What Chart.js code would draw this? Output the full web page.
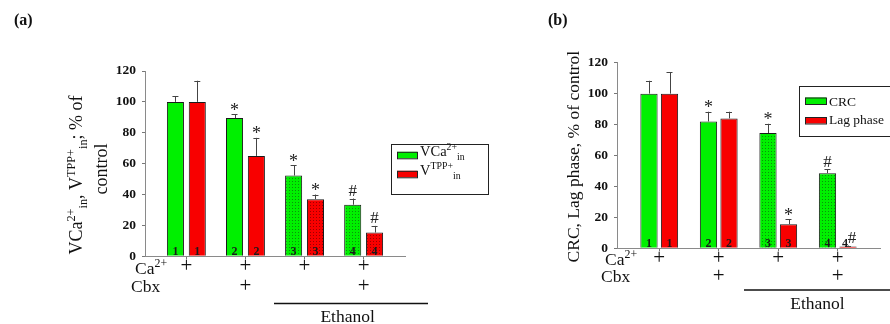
<!DOCTYPE html>
<html>
<head>
<meta charset="utf-8">
<script src="https://cdn.jsdelivr.net/npm/chart.js@4.4.1/dist/chart.umd.min.js"></script>
<style>
  html, body { margin: 0; padding: 0; background: #fff; width: 890px; height: 324px; overflow: hidden; }
  canvas { position: absolute; top: 0; }
  #cA { left: 0; }
  #cB { left: 500px; }
</style>
</head>
<body>
<canvas id="cA" width="500" height="324"></canvas>
<canvas id="cB" width="390" height="324"></canvas>
<script>
// ── shared categories / rows ────────────────────────
const groups = [1, 2, 3, 4];
const barNums = ['1', '2', '3', '4'];
const yTicks = [0, 20, 40, 60, 80, 100, 120];
const caRow  = ['+', '+', '+', '+'];
const cbxRow = ['', '+', '', '+'];
const ethanolGroups = [3, 4];

// ── panel (a): VCa2+in / VTPP+in, % of control ──────
const aVca     = [100, 89.5, 52.3, 33.4];
const aVcaErr  = [3.5, 2.5, 6.7, 4.0];
const aVcaSig  = ['', '*', '*', '#'];
const aVtpp    = [100, 65, 37, 15.4];
const aVtppErr = [13.7, 11.7, 3.0, 4.3];
const aVtppSig = ['', '*', '*', '#'];

// ── panel (b): CRC / Lag phase, % of control ────────
const bCrc    = [100, 82, 74.5, 48.6];
const bCrcErr = [8.3, 6.3, 6.0, 2.4];
const bCrcSig = ['', '*', '*', '#'];
const bLag    = [100, 84, 15.6, 1.2];
const bLagErr = [13.8, 4.3, 3.1, 0.6];
const bLagSig = ['', '', '*', '#'];

const SERIF = "'Liberation Serif', 'Times New Roman', serif";
const GREEN = '#00f000';
const RED = '#f80000';
const SUP = 0.68;

function dots(base, dot) {
  const c = document.createElement('canvas');
  c.width = c.height = 3;
  const x = c.getContext('2d');
  x.fillStyle = base; x.fillRect(0, 0, 3, 3);
  x.fillStyle = dot; x.fillRect(1, 1, 1, 1);
  return x.createPattern(c, 'repeat');
}

function richWidth(ctx, parts, size) {
  let w = 0;
  parts.forEach(([t, k]) => {
    ctx.font = (k ? size * SUP : size) + 'px ' + SERIF;
    w += ctx.measureText(t).width;
  });
  return w;
}

function rich(ctx, parts, x, y, size) {
  ctx.textAlign = 'left';
  ctx.textBaseline = 'alphabetic';
  parts.forEach(([t, k]) => {
    ctx.font = (k ? size * SUP : size) + 'px ' + SERIF;
    const dy = k === 'sup' ? -size * 0.4 : k === 'sub' ? size * 0.3 : 0;
    ctx.fillText(t, x, y + dy);
    x += ctx.measureText(t).width;
  });
}

// draws error bars, marks, numbers in bars, the +/- rows, legend, axis title
function annotations(p) {
  return {
    id: 'annot' + p.id,
    afterDraw(chart) {
      const ctx = chart.ctx, xs = chart.scales.x, ys = chart.scales.y;
      const X = v => v - p.left;
      ctx.save();
      ctx.fillStyle = '#111';

      // error bars + significance marks
      chart.data.datasets.forEach((ds, i) => {
        const meta = chart.getDatasetMeta(i);
        meta.data.forEach((bar, j) => {
          const top = ys.getPixelForValue(ds.data[j].y + ds.err[j]);
          ctx.strokeStyle = '#444';
          ctx.lineWidth = 1;
          ctx.beginPath();
          ctx.moveTo(Math.round(bar.x) + 0.5, bar.y);
          ctx.lineTo(Math.round(bar.x) + 0.5, top);
          ctx.moveTo(bar.x - 3, Math.round(top) + 0.5);
          ctx.lineTo(bar.x + 3, Math.round(top) + 0.5);
          ctx.stroke();
          const s = ds.sig[j];
          if (s) {
            ctx.textAlign = 'center';
            ctx.textBaseline = 'alphabetic';
            ctx.font = (s === '*' ? 18 : 17) + 'px ' + SERIF;
            ctx.fillStyle = '#222';
            const dx = (p.id === 'cB' && i === 1 && j === 3) ? 4 : 0;
            ctx.fillText(s, bar.x + dx, s === '*' ? top + 1.5 : top - 2.5);
          }
          // number inside bar
          ctx.font = 'bold 12px ' + SERIF;
          ctx.textAlign = 'center';
          ctx.fillStyle = '#1a1a1a';
          ctx.fillText(barNums[j], bar.x - (p.id === 'cB' && i === 1 && j === 3 ? 3 : 0), ys.bottom - 1.5);
        });
      });

      // treatment rows
      ctx.fillStyle = '#111';
      rich(ctx, [['Ca', ''], ['2+', 'sup']], X(p.rows.labelX), p.rows.caBase, 17.5);
      rich(ctx, [['Cbx', '']], X(p.rows.labelX - 4), p.rows.cbxBase, 17.5);
      ctx.font = '21px ' + SERIF;
      ctx.textAlign = 'center';
      groups.forEach((g, j) => {
        const px = xs.getPixelForValue(g);
        if (caRow[j]) ctx.fillText(caRow[j], px, p.rows.caPlus + 5.3);
        if (cbxRow[j]) ctx.fillText(cbxRow[j], px, p.rows.cbxPlus + 5.3);
      });
      ctx.strokeStyle = '#111';
      ctx.lineWidth = 1.4;
      ctx.beginPath();
      ctx.moveTo(X(p.rows.lineX1), p.rows.lineY);
      ctx.lineTo(X(p.rows.lineX2), p.rows.lineY);
      ctx.stroke();
      const ex = (xs.getPixelForValue(ethanolGroups[0]) + xs.getPixelForValue(ethanolGroups[1])) / 2;
      ctx.font = '17.5px ' + SERIF;
      ctx.fillText('Ethanol', ex + p.rows.ethDx, p.rows.ethBase);

      // legend
      const L = p.legend;
      ctx.strokeStyle = '#222';
      ctx.lineWidth = 1;
      ctx.strokeRect(X(L.box[0]) + 0.5, L.box[1] + 0.5, L.box[2], L.box[3]);
      L.items.forEach((it, i) => {
        ctx.fillStyle = chart.data.datasets[i].swatch;
        ctx.fillRect(X(L.swX), it.swY, L.swW, 6.5);
        ctx.strokeRect(X(L.swX) + 0.5, it.swY + 0.5, L.swW, 6.5);
        ctx.fillStyle = '#111';
        rich(ctx, it.parts, X(L.textX), it.base, L.size);
      });

      // y-axis title (rotated)
      p.title.forEach(t => {
        ctx.save();
        ctx.translate(X(t.x), t.cy);
        ctx.rotate(-Math.PI / 2);
        ctx.fillStyle = '#111';
        rich(ctx, t.parts, -richWidth(ctx, t.parts, t.size) / 2, 0, t.size);
        ctx.restore();
      });

      // panel label
      ctx.font = 'bold 16px ' + SERIF;
      ctx.textAlign = 'left';
      ctx.fillStyle = '#111';
      ctx.fillText(p.label, X(p.labelX), 25);
      ctx.restore();
    }
  };
}

function buildPanel(p) {
  const fill = (base, dot, pat) => groups.map((g, j) => pat[j] ? dots(base, dot) : base);
  const series = (vals, err, sig, color, dot, pat, name) => ({
    label: name,
    data: groups.map((g, j) => ({ x: g, y: vals[j] })),
    err, sig, swatch: color,
    backgroundColor: fill(color, dot, pat),
    borderColor: '#1a1a1a',
    borderWidth: 1,
    categoryPercentage: p.cat,
    barPercentage: p.bar
  });
  new Chart(document.getElementById(p.id), {
    type: 'bar',
    data: {
      datasets: [
        series(p.g, p.gErr, p.gSig, GREEN, '#0b8f0b', p.gPat, p.names[0]),
        series(p.r, p.rErr, p.rSig, RED, '#9a0000', p.rPat, p.names[1])
      ]
    },
    options: {
      responsive: false,
      animation: false,
      devicePixelRatio: 1,
      layout: { padding: p.pad },
      plugins: { legend: { display: false }, tooltip: { enabled: false } },
      scales: {
        x: {
          type: 'linear', min: p.xMin, max: p.xMax, offset: false,
          afterBuildTicks: s => { s.ticks = groups.map(v => ({ value: v })); },
          afterFit: s => { s.height = 0; },
          ticks: { display: false },
          grid: { offset: false, drawOnChartArea: false, tickLength: 3, color: '#777' },
          border: { color: '#8a8a8a' }
        },
        y: {
          min: 0, max: 120,
          afterBuildTicks: s => { s.ticks = yTicks.map(v => ({ value: v })); },
          afterFit: s => { s.width = p.yW; },
          ticks: { font: { family: SERIF, size: 13.5, weight: 'bold' }, color: '#111', padding: 6 },
          grid: { drawOnChartArea: false, tickLength: 3, color: '#777' },
          border: { color: '#8a8a8a' }
        }
      }
    },
    plugins: [annotations(p)]
  });
}

buildPanel({
  id: 'cA', left: 0, label: '(a)', labelX: 14,
  names: ['VCa2+in', 'VTPP+in'],
  g: aVca, gErr: aVcaErr, gSig: aVcaSig, gPat: [false, false, true, true],
  r: aVtpp, rErr: aVtppErr, rSig: aVtppSig, rPat: [false, false, true, true],
  xMin: 0.3, xMax: 4.7, cat: 0.74, bar: 0.78, yW: 145,
  pad: { left: 0, right: 95, top: 71, bottom: 67.7 },
  rows: { labelX: 135, caBase: 273.5, cbxBase: 292, caPlus: 266.7, cbxPlus: 286.7,
          lineX1: 274, lineX2: 428, lineY: 303.5, ethDx: 13.5, ethBase: 322 },
  legend: {
    box: [391, 144, 97, 50], swX: 397, swW: 20, textX: 420, size: 14.5,
    items: [
      { swY: 151.8, base: 156, parts: [['VCa', ''], ['2+', 'sup'], ['in', 'sub']] },
      { swY: 170.8, base: 174.5, parts: [['V', ''], ['TPP+', 'sup'], ['in', 'sub']] }
    ]
  },
  title: [
    { x: 82, cy: 175, size: 18, parts: [['VCa', ''], ['2+', 'sup'], ['in', 'sub'], [', V', ''], ['TPP+', 'sup'], ['in', 'sub'], ['; % of', '']] },
    { x: 107, cy: 169, size: 18, parts: [['control', '']] }
  ]
});

buildPanel({
  id: 'cB', left: 500, label: '(b)', labelX: 548,
  names: ['CRC', 'Lag phase'],
  g: bCrc, gErr: bCrcErr, gSig: bCrcSig, gPat: [false, false, true, true],
  r: bLag, rErr: bLagErr, rSig: bLagSig, rPat: [false, false, false, false],
  xMin: 0.29, xMax: 4.71, cat: 0.69, bar: 0.84, yW: 117,
  pad: { left: 0, right: 10, top: 62.7, bottom: 75.7 },
  rows: { labelX: 605, caBase: 265, cbxBase: 282, caPlus: 258.3, cbxPlus: 276.7,
          lineX1: 744, lineX2: 892, lineY: 290, ethDx: 9.5, ethBase: 308.5 },
  legend: {
    box: [799, 86, 93, 50], swX: 805, swW: 21, textX: 829, size: 13.5,
    items: [
      { swY: 97.5, base: 106, parts: [['CRC', '']] },
      { swY: 117, base: 124, parts: [['Lag phase', '']] }
    ]
  },
  title: [
    { x: 578.5, cy: 156.7, size: 17.5, parts: [['CRC, Lag phase, % of control', '']] }
  ]
});
</script>
</body>
</html>
